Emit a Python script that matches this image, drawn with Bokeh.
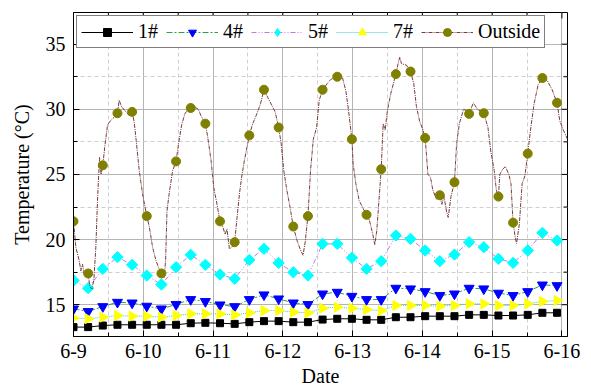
import numpy as np
from bokeh.plotting import figure
from bokeh.models import FixedTicker, Range1d, Legend, LegendItem
from bokeh.embed import file_html
from bokeh.resources import INLINE

# ---------------- data ----------------
dates = ["6-9", "6-10", "6-11", "6-12", "6-13", "6-14", "6-15", "6-16"]
y_ticks = [15, 20, 25, 30, 35]
y_minor = [12.5, 17.5, 22.5, 27.5, 32.5, 37.5]
marker_step_days = 0.21  # markers every ~5 h

s1 = [13.28, 13.28, 13.40, 13.46, 13.46, 13.46, 13.46, 13.46, 13.58, 13.61, 13.58, 13.53,
      13.66, 13.74, 13.74, 13.66, 13.66, 13.86, 13.92, 13.92, 13.84, 13.84, 14.04, 14.04,
      14.12, 14.12, 14.12, 14.22, 14.22, 14.17, 14.17, 14.22, 14.38, 14.38]
s4 = [14.68, 14.48, 14.86, 15.19, 15.14, 14.89, 14.68, 15.02, 15.40, 15.25, 14.99, 14.86,
      15.40, 15.76, 15.45, 15.14, 15.02, 15.83, 15.96, 15.65, 15.40, 15.40, 16.27, 16.22,
      16.01, 15.71, 15.83, 16.27, 16.22, 15.89, 15.71, 16.01, 16.52, 16.47]
s5 = [16.86, 16.27, 17.75, 18.65, 18.06, 17.24, 16.55, 17.88, 18.83, 18.06, 17.32, 16.99,
      18.44, 19.29, 18.21, 17.49, 17.24, 19.67, 19.67, 18.60, 17.75, 18.34, 20.31, 20.05,
      19.16, 18.34, 18.85, 19.80, 19.41, 18.52, 18.21, 19.16, 20.52, 19.93]
s7 = [13.97, 13.92, 14.04, 14.17, 14.12, 14.12, 14.04, 14.17, 14.30, 14.30, 14.30, 14.22,
      14.38, 14.55, 14.55, 14.43, 14.38, 14.73, 14.81, 14.73, 14.63, 14.55, 14.94, 14.94,
      14.94, 14.89, 14.94, 15.07, 15.07, 14.94, 14.94, 15.07, 15.25, 15.32]
outside_markers = [21.4, 17.4, 25.7, 29.7, 29.8, 21.8, 17.4, 26.0, 30.1, 28.9, 21.4, 19.8,
                   28.0, 31.5, 28.6, 21.0, 21.8, 31.5, 32.5, 27.7, 21.9, 25.4, 32.7, 32.9,
                   27.8, 23.4, 24.4, 29.65, 29.7, 23.3, 21.3, 26.6, 32.4, 30.5]

# outside temperature trace (time in days since 6-9 00:00, value in degC)
outside_line = [
    (0.0, 21.4), (0.034, 19.4), (0.081, 18.4), (0.105, 17.6), (0.129, 18.1), (0.153, 17.4),
    (0.21, 17.4), (0.234, 16.4), (0.263, 16.2), (0.292, 16.9), (0.32, 19.4), (0.344, 23.0),
    (0.373, 26.3), (0.395, 25.0), (0.42, 25.7), (0.45, 27.2), (0.488, 28.8), (0.526, 29.1),
    (0.584, 29.4), (0.63, 29.7), (0.655, 30.7), (0.689, 30.2), (0.737, 29.9), (0.80, 29.5),
    (0.84, 29.8), (0.871, 29.0), (0.904, 27.3), (0.942, 25.3), (0.99, 23.5), (1.05, 21.8),
    (1.086, 21.0), (1.134, 19.4), (1.182, 18.4), (1.215, 17.9), (1.26, 17.4), (1.30, 17.1),
    (1.32, 18.4), (1.34, 22.2), (1.373, 23.6), (1.421, 25.3), (1.47, 26.0), (1.507, 27.4),
    (1.55, 28.8), (1.598, 29.7), (1.68, 30.1), (1.732, 30.2), (1.789, 30.0), (1.827, 29.5),
    (1.89, 28.9), (1.923, 27.9), (1.971, 26.1), (2.01, 24.0), (2.057, 22.7), (2.10, 21.4),
    (2.139, 21.0), (2.172, 20.4), (2.20, 20.8), (2.234, 19.3), (2.268, 19.4), (2.31, 19.8),
    (2.344, 21.7), (2.378, 23.5), (2.41, 24.8), (2.45, 26.1), (2.52, 28.0), (2.569, 28.9),
    (2.617, 29.5), (2.679, 30.4), (2.73, 31.5), (2.785, 30.9), (2.842, 30.3), (2.89, 29.8),
    (2.94, 28.6), (2.976, 27.4), (3.014, 25.3), (3.057, 23.8), (3.096, 22.7), (3.15, 21.0),
    (3.205, 19.9), (3.253, 19.2), (3.29, 18.8), (3.32, 19.8), (3.36, 21.8), (3.397, 25.3),
    (3.437, 27.7), (3.484, 28.6), (3.522, 30.7), (3.57, 31.5), (3.641, 32.0), (3.689, 32.3),
    (3.78, 32.5), (3.856, 32.4), (3.904, 31.4), (3.942, 29.9), (3.99, 27.7), (4.008, 25.8),
    (4.046, 24.3), (4.094, 23.0), (4.14, 22.5), (4.20, 21.9), (4.24, 21.5), (4.29, 20.4),
    (4.318, 19.6), (4.347, 20.7), (4.41, 25.4), (4.438, 28.9), (4.466, 28.4), (4.499, 29.9),
    (4.547, 31.2), (4.62, 32.7), (4.652, 33.5), (4.676, 34.0), (4.70, 33.5), (4.77, 33.4),
    (4.83, 32.9), (4.876, 32.0), (4.915, 30.2), (4.96, 29.1), (5.01, 28.4), (5.04, 27.8),
    (5.08, 25.0), (5.115, 24.8), (5.15, 23.8), (5.20, 23.1), (5.25, 23.4), (5.28, 22.7),
    (5.31, 23.3), (5.345, 22.2), (5.37, 21.7), (5.41, 23.3), (5.46, 24.4), (5.49, 27.3),
    (5.53, 28.9), (5.59, 30.0), (5.63, 29.9), (5.67, 29.65), (5.73, 30.5), (5.79, 30.0),
    (5.88, 29.7), (5.94, 28.6), (5.98, 26.8), (6.03, 25.3), (6.06, 23.8), (6.09, 23.3),
    (6.11, 25.0), (6.15, 25.4), (6.19, 25.6), (6.24, 25.0), (6.27, 24.3), (6.30, 21.3),
    (6.33, 20.2), (6.35, 19.7), (6.39, 21.2), (6.43, 24.3), (6.47, 24.9), (6.51, 26.6),
    (6.55, 28.4), (6.60, 30.4), (6.66, 31.9), (6.72, 32.4), (6.79, 32.2), (6.86, 31.5),
    (6.93, 30.5), (6.97, 29.1), (7.02, 28.4), (7.08, 27.7),
]

t_m = [round(i * marker_step_days, 3) for i in range(len(s1))]
out_t = [a for a, b in outside_line]
out_v = [b for a, b in outside_line]

FONT = "Liberation Serif"

X0, X1 = 0.0, 7.08
Y0, Y1 = 12.56, 37.43

p = figure(width=591, height=391, output_backend="svg", toolbar_location=None,
           x_range=Range1d(X0, X1), y_range=Range1d(Y0, Y1),
           min_border_left=73, min_border_right=24, min_border_top=12, min_border_bottom=55)
p.background_fill_color = "white"
p.border_fill_color = "white"
p.outline_line_color = "black"
p.outline_line_width = 1

x_major = list(range(len(dates)))
x_minor = [i + 0.5 for i in range(len(dates) - 1)]
xt = FixedTicker(ticks=x_major, minor_ticks=x_minor)
yt = FixedTicker(ticks=y_ticks, minor_ticks=y_minor)

for ax in (p.xaxis[0], p.yaxis[0]):
    ax.major_tick_in = 6
    ax.major_tick_out = 0
    ax.minor_tick_in = 4
    ax.minor_tick_out = 0
    ax.axis_line_color = "black"
    ax.major_tick_line_color = "black"
    ax.minor_tick_line_color = "black"
    ax.major_label_text_font = FONT
    ax.major_label_text_font_size = "20px"
    ax.major_label_text_color = "black"
    ax.axis_label_text_font = FONT
    ax.axis_label_text_font_size = "20px"
    ax.axis_label_text_font_style = "normal"
    ax.axis_label_text_color = "black"

p.xaxis[0].ticker = xt
p.yaxis[0].ticker = yt
p.xaxis[0].major_label_overrides = {i: d for i, d in enumerate(dates)}
p.xaxis[0].axis_label = "Date"
p.yaxis[0].axis_label = "Temperature (°C)"
p.xaxis[0].major_label_standoff = 7
p.xaxis[0].axis_label_standoff = 4
p.yaxis[0].major_label_standoff = 8
p.yaxis[0].axis_label_standoff = 10

for g in (p.xgrid[0], p.ygrid[0]):
    g.grid_line_color = "#b4b4b4"
    g.grid_line_width = 1
    g.minor_grid_line_color = "#cfcfcf"
    g.minor_grid_line_dash = "4 3"

# inward ticks on the top and right frame edges (mirror of bottom/left axes)
px_per_x = (567 - 73) / (X1 - X0)
px_per_y = (336 - 12) / (Y1 - Y0)
tx = x_major + x_minor
tlen_x = [(6 if v in x_major else 4) / px_per_y for v in tx]
p.segment(x0=tx, x1=tx, y0=[Y1] * len(tx), y1=[Y1 - d for d in tlen_x], line_color="black", line_width=1)
ty = y_ticks + y_minor
tlen_y = [(6 if v in y_ticks else 4) / px_per_x for v in ty]
p.segment(x0=[X1] * len(ty), x1=[X1 - d for d in tlen_y], y0=ty, y1=ty, line_color="black", line_width=1)

# series
l1 = p.line(t_m, s1, line_color="black", line_width=1)
m1 = p.scatter(t_m, s1, marker="square", size=7, fill_color="black", line_color="black")

l4 = p.line(t_m, s4, line_color="#2e9e4f", line_width=1, line_dash="6 2 2 2")
m4 = p.scatter(t_m, s4, marker="inverted_triangle", size=10, fill_color="#0000ff", line_color="#0000ff")

l5 = p.line(t_m, s5, line_color="#b77fe6", line_width=1, line_dash="5 2 1 2 1 2")
m5 = p.scatter(t_m, s5, marker="square", angle=np.pi / 4, size=8, fill_color="#00ffff", line_color="#00ffff")
# diamond glyph on the first 5# point, so that the legend shows a diamond as well
m5_leg = p.scatter(t_m[:1], s5[:1], marker="diamond", size=12, fill_color="#00ffff", line_color="#00ffff")

l7 = p.line(t_m, s7, line_color="#33cccc", line_width=1, line_dash="1 1")
m7 = p.scatter(t_m, s7, marker="triangle", angle=-np.pi / 2, size=10,
               fill_color="#ffff00", line_color="#ffff00")

lo = p.line(out_t, out_v, line_color="#7a3b3b", line_width=1, line_dash="4 1 1 1")
mo = p.scatter(t_m, outside_markers, marker="circle", size=9, fill_color="#808000", line_color="#808000")

legend = Legend(items=[
    LegendItem(label="1#", renderers=[l1, m1]),
    LegendItem(label="4#", renderers=[l4, m4]),
    LegendItem(label="5#", renderers=[l5, m5_leg]),
    LegendItem(label="7#", renderers=[l7, m7]),
    LegendItem(label="Outside", renderers=[lo, mo]),
], orientation="horizontal", location="top_left")
legend.label_text_font = FONT
legend.label_text_font_size = "20px"
legend.label_text_color = "black"
legend.glyph_width = 52
legend.glyph_height = 20
legend.label_standoff = 5
legend.spacing = 8
legend.padding = 4
legend.margin = 3
legend.border_line_color = "black"
legend.border_line_width = 1
legend.background_fill_color = "white"
legend.background_fill_alpha = 1
p.add_layout(legend)

open("out.html", "w").write(file_html(p, INLINE))
